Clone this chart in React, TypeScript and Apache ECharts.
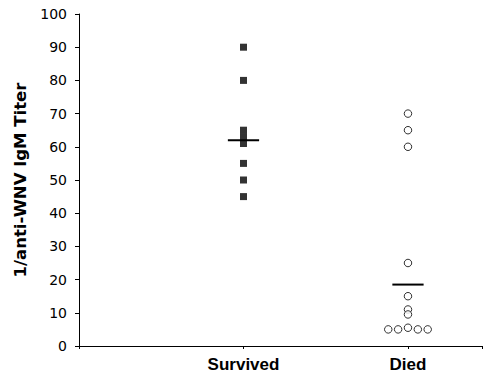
import React, { useEffect, useRef } from "react";
import * as echarts from "echarts";

const categories = ["Survived", "Died"];
const yTicks = [0, 10, 20, 30, 40, 50, 60, 70, 80, 90, 100];

// [group position, titer]
const survivedPoints: number[][] = [
  [1, 90], [1, 80], [1, 65], [1, 63], [1, 61], [1, 55], [1, 50], [1, 45],
];
const diedPoints: number[][] = [
  [2, 70], [2, 65], [2, 60], [2, 25], [2, 15], [2, 11], [2, 9.5],
  [1.88, 5], [1.94, 5], [2, 5.5], [2.06, 5], [2.12, 5],
];
// group center, summary value
const summaryLines: number[][] = [
  [1, 62], [2, 18.5],
];

export default function App() {
  const ref = useRef<HTMLDivElement>(null);
  useEffect(() => {
    if (!ref.current) return;
    const chart = echarts.init(ref.current, null, { renderer: "svg" });
    chart.setOption({
      animation: false,
      backgroundColor: "#ffffff",
      grid: { left: 79, right: 0, top: 14, bottom: 34 },
      xAxis: {
        type: "value",
        min: 0,
        max: 2.45,
        interval: 1,
        axisLine: { show: true, lineStyle: { color: "#000", width: 1 } },
        axisTick: { show: true, length: 3, lineStyle: { color: "#000" } },
        splitLine: { show: false },
        axisLabel: {
          margin: 10,
          color: "#000",
          fontFamily: "Liberation Sans",
          fontWeight: "bold",
          fontSize: 17,
          formatter: (v: number) => (v >= 1 && v <= 2 ? categories[v - 1] : ""),
        },
      },
      yAxis: {
        type: "value",
        min: 0,
        max: 100,
        interval: 10,
        name: "1/anti-WNV IgM Titer",
        nameLocation: "middle",
        nameGap: 50,
        nameTextStyle: {
          color: "#000",
          fontFamily: "DejaVu Sans",
          fontWeight: "bold",
          fontSize: 16.5,
        },
        axisLine: { show: true, lineStyle: { color: "#000", width: 1 } },
        axisTick: { show: true, length: 4, lineStyle: { color: "#000" } },
        splitLine: { show: false },
        axisLabel: {
          margin: 12,
          color: "#000",
          fontFamily: "DejaVu Sans",
          fontSize: 14,
          formatter: (v: number) => (yTicks.includes(v) ? String(v) : ""),
        },
      },
      series: [
        {
          type: "scatter",
          data: survivedPoints,
          symbol: "rect",
          symbolSize: 7,
          itemStyle: { color: "#000" },
        },
        {
          type: "scatter",
          data: diedPoints,
          symbol: "circle",
          symbolSize: 7.5,
          itemStyle: { color: "#fff", borderColor: "#000", borderWidth: 1 },
        },
        {
          type: "custom",
          data: summaryLines,
          renderItem: (params: any, api: any) => {
            const x = api.value(0);
            const y = api.value(1);
            const a = api.coord([x - 0.095, y]);
            const b = api.coord([x + 0.095, y]);
            return {
              type: "line",
              shape: { x1: a[0], y1: a[1], x2: b[0], y2: b[1] },
              style: { stroke: "#000", lineWidth: 2 },
            };
          },
          z: 5,
        },
      ],
    });
    return () => chart.dispose();
  }, []);
  return <div ref={ref} style={{ width: 485, height: 380, position: "absolute", left: 0, top: 0 }} />;
}
